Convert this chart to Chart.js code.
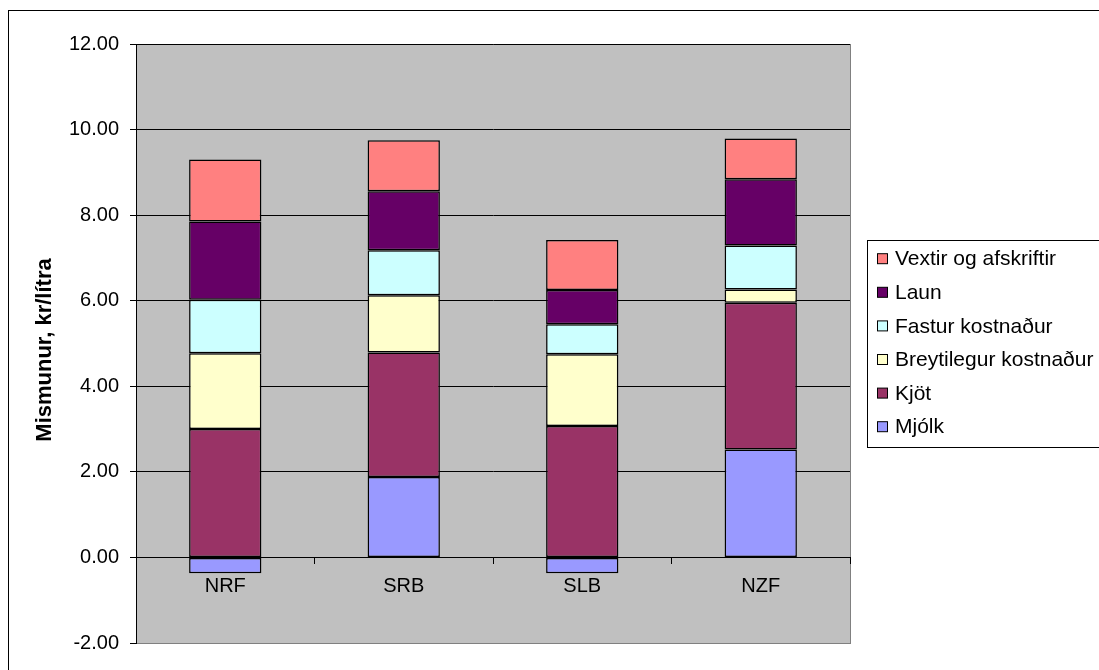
<!DOCTYPE html>
<html>
<head>
<meta charset="utf-8">
<script src="https://cdn.jsdelivr.net/npm/chart.js@4/dist/chart.umd.min.js"></script>
<style>
  html, body { margin: 0; padding: 0; background: #fff; }
  canvas { display: block; }
</style>
</head>
<body>
<canvas id="cost-chart" width="1099" height="670"></canvas>
<script>
const categories = ["NRF", "SRB", "SLB", "NZF"];

const mjolk = [-0.37, 1.88, -0.37, 2.52];
const kjot = [3.0, 2.91, 3.07, 3.43];
const breytilegur = [1.77, 1.34, 1.68, 0.31];
const fastur = [1.25, 1.05, 0.7, 1.03];
const laun = [1.83, 1.38, 0.8, 1.55];
const vextir = [1.45, 1.19, 1.17, 0.95];

const yTicks = [-2, 0, 2, 4, 6, 8, 10, 12];
const yTitle = "Mismunur, kr/lítra";

const FONT = "'Liberation Sans', Arial, sans-serif";

// plot background + outer frame, drawn under the bars
const frame = {
  id: "frame",
  beforeDraw(chart) {
    const { ctx, chartArea: a } = chart;
    ctx.save();
    ctx.fillStyle = "#fff";
    ctx.fillRect(0, 0, chart.width, chart.height);
    ctx.strokeStyle = "#000";
    ctx.lineWidth = 1;
    ctx.strokeRect(8.5, 10.5, chart.width + 10, chart.height + 10);
    ctx.fillStyle = "#c0c0c0";
    ctx.fillRect(a.left, a.top, a.right - a.left, a.bottom - a.top);
    ctx.strokeStyle = "#808080";
    ctx.strokeRect(a.left + 0.5, a.top + 0.5, a.right - a.left, a.bottom - a.top);
    ctx.restore();
  },
};

// axis title + Excel style legend box at the right
const sideLegend = {
  id: "sideLegend",
  afterDraw(chart) {
    const { ctx } = chart;
    const sets = chart.data.datasets.slice().reverse();
    ctx.save();
    ctx.fillStyle = "#000";
    ctx.font = "bold 22px " + FONT;
    ctx.textAlign = "center";
    ctx.textBaseline = "middle";
    ctx.translate(45, 350);
    ctx.rotate(-Math.PI / 2);
    ctx.fillText(yTitle, 0, 0);
    ctx.restore();

    ctx.save();
    ctx.fillStyle = "#fff";
    ctx.fillRect(867.5, 240.5, 240, 207);
    ctx.strokeStyle = "#000";
    ctx.lineWidth = 1;
    ctx.strokeRect(867.5, 240.5, 240, 207);
    ctx.font = "21px " + FONT;
    ctx.textBaseline = "middle";
    ctx.textAlign = "left";
    sets.forEach((ds, i) => {
      const y = 258.7 + i * 33.6;
      ctx.fillStyle = ds.backgroundColor;
      ctx.fillRect(877.5, y - 5, 10, 10);
      ctx.strokeRect(877.5, y - 5, 10, 10);
      ctx.fillStyle = "#000";
      ctx.fillText(ds.label, 895, y + 1);
    });
    ctx.restore();
  },
};

const barStyle = {
  borderColor: "#000",
  borderWidth: 1.5,
  borderSkipped: false,
  barPercentage: 0.405,
  categoryPercentage: 1,
};

const chartData = {
  labels: categories,
  datasets: [
    { label: "Mjólk", data: mjolk, backgroundColor: "#9999ff", ...barStyle },
    { label: "Kjöt", data: kjot, backgroundColor: "#993366", ...barStyle },
    { label: "Breytilegur kostnaður", data: breytilegur, backgroundColor: "#ffffcc", ...barStyle },
    { label: "Fastur kostnaður", data: fastur, backgroundColor: "#ccffff", ...barStyle },
    { label: "Laun", data: laun, backgroundColor: "#660066", ...barStyle },
    { label: "Vextir og afskriftir", data: vextir, backgroundColor: "#ff8080", ...barStyle },
  ],
};

const canvaEl = document.getElementById("cost-chart");

const costChart = new Chart(canvaEl, {
  type: "bar",
  data: chartData,
  plugins: [frame, sideLegend],
  options: {
    responsive: false,
    animation: false,
    devicePixelRatio: 1,
    layout: { padding: { left: 0, top: 44, right: 249, bottom: 27 } },
    plugins: { legend: { display: false }, tooltip: { enabled: false } },
    scales: {
      x: {
        stacked: true,
        position: { y: 0 },
        grid: {
          offset: true,
          drawOnChartArea: false,
          drawTicks: true,
          tickLength: 6,
          color: "#000",
        },
        border: { display: true, color: "#000", width: 1 },
        ticks: { color: "#000", font: { family: FONT, size: 20 }, padding: 11 },
      },
      y: {
        stacked: true,
        min: -2,
        max: 12,
        afterFit(scale) {
          scale.width = 136;
        },
        afterBuildTicks(scale) {
          scale.ticks = yTicks.map((v) => ({ value: v }));
        },
        grid: {
          color: (c) => (c.tick && c.tick.value === -2 ? "#808080" : "#000"),
          tickColor: "#000",
          tickLength: 6,
        },
        border: { display: true, color: "#000", width: 1 },
        ticks: {
          color: "#000",
          padding: 11,
          font: { family: FONT, size: 20 },
          callback: (v) => Number(v).toFixed(2),
        },
      },
    },
  },
});
</script>
</body>
</html>
